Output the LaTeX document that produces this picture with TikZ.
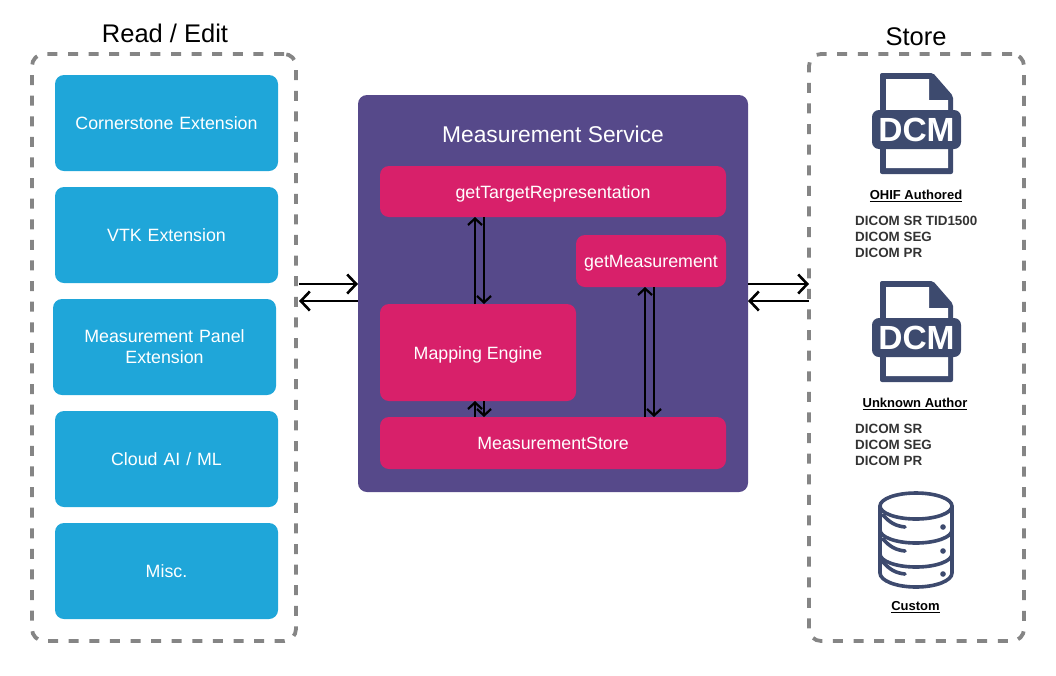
\documentclass[tikz,border=0pt]{standalone}
\usepackage{fontspec}
\setmainfont{Liberation Sans}
\usepackage{xcolor}
\usetikzlibrary{arrows.meta, positioning, calc}
\definecolor{extblue}{HTML}{1FA6D9}
\definecolor{svcpurple}{HTML}{56498A}
\definecolor{svcpink}{HTML}{D8206A}
\definecolor{iconnavy}{HTML}{3D4A6E}
\definecolor{dashgray}{HTML}{858585}
\definecolor{listgray}{HTML}{333333}
\begin{document}
\begin{tikzpicture}[
  x=1pt, y=-1pt,
  font=\fontsize{17.8}{21}\selectfont,
  area/.style={draw=dashgray, line width=3.8pt, dash pattern=on 10pt off 10.6pt, rounded corners=12pt, minimum height=587pt, outer sep=0pt, inner sep=0pt},
  ext/.style={fill=extblue, text=white, rounded corners=9pt, align=center, minimum width=223pt, minimum height=96pt, text width=190pt, inner sep=0pt, outer sep=0pt},
  svc/.style={fill=svcpink, text=white, rounded corners=9pt, align=center, inner sep=0pt, outer sep=0pt, text height=13pt, text depth=0pt},
  conn/.style={draw=black, line width=2.2pt, -{Straight Barb[length=6.5pt,width=14pt]}},
  link/.style={draw=black, line width=2.6pt, -{Straight Barb[length=9pt,width=19pt]}},
  head/.style={font=\fontsize{25.5}{30}\selectfont, inner sep=0pt},
  fmt/.style={font=\fontsize{13}{15}\selectfont\bfseries, inner sep=0pt},
  lst/.style={font=\fontsize{13.4}{16}\selectfont\bfseries, text=listgray, align=left, inner sep=0pt, anchor=north west},
  dcmfile/.pic={
    \fill[iconnavy, rounded corners=2pt] (-36.5,-56.5) -- (16.5,-56.5) -- (36.5,-33.5) -- (36.5,44.5) -- (-36.5,44.5) -- cycle;
    \fill[white] (-30.5,-50.5) -- (12.5,-50.5) -- (12.5,-29.5) -- (31.5,-29.5) -- (31.5,38.5) -- (-30.5,38.5) -- cycle;
    \fill[iconnavy, rounded corners=7pt] (-44.5,-19.5) rectangle (44.5,19.5);
    \node[text=white, inner sep=0pt, font=\fontsize{33.5}{40}\selectfont\bfseries] (-txt) at (0,0) {DCM};
  },
  dbstack/.pic={
    \begin{scope}[draw=iconnavy, line width=3.6pt, line cap=round]
      \draw[fill=white] (-36,0) -- (-36,67) arc[start angle=180, end angle=360, x radius=36, y radius=-14] -- (36,0);
      \draw[fill=white] (0,0) ellipse[x radius=36, y radius=13];
      \draw (-36,24) arc[start angle=180, end angle=360, x radius=36, y radius=-13];
      \draw (-36,48) arc[start angle=180, end angle=360, x radius=36, y radius=-13];
      \foreach \yy in {9,33,56} {
        \draw (-33,\yy) .. controls (-26,\yy+8) and (-20,\yy+11) .. (-11,\yy+12);
        \fill[iconnavy] (27,\yy+12) circle[radius=2.8];
      }
    \end{scope}
  }
]
% left area
\node[area, minimum width=264pt] (readedit) at (164,347.5) {};
\node[head] (readtitle) at (165,33) {Read / Edit};
\node[ext] (cornerstone) at (166.5,123) {Cornerstone Extension};
\node[ext, below=16pt of cornerstone] (vtk) {VTK Extension};
\node[ext, below=16pt of vtk, xshift=-2pt] (panel) {Measurement Panel\\Extension};
\node[ext, below=16pt of panel, xshift=2pt] (cloud) {Cloud AI / ML};
\node[ext, below=16pt of cloud] (misc) {Misc.};
% service
\node[fill=svcpurple, rounded corners=9pt, minimum width=390pt, minimum height=397pt, inner sep=0pt, outer sep=0pt] (service) at (553,293.5) {};
\node[text=white, inner sep=0pt, font=\fontsize{22.8}{27}\selectfont] (svctitle) at (553,134.5) {Measurement Service};
\node[svc, minimum width=346pt, minimum height=51pt] (target) at (553,191.5) {getTargetRepresentation};
\node[svc, minimum width=150pt, minimum height=52pt] (getm) at (651,261) {getMeasurement};
\node[svc, minimum width=196pt, minimum height=97pt] (mapping) at (478,352.5) {Mapping Engine};
\node[svc, minimum width=346pt, minimum height=52pt] (mstore) at (553,443) {MeasurementStore};
% right area
\node[area, minimum width=215pt] (store) at (916.5,347.5) {};
\node[head] (storetitle) at (916,37) {Store};
\pic (dcmA) at (916.5,129.5) {dcmfile};
\node[fmt] (ohif) at (916,196) {\underline{OHIF Authored}};
\node[lst] (ohiflist) at (855,215.5) {DICOM SR TID1500\\DICOM SEG\\DICOM PR};
\pic (dcmB) at (916.5,337.5) {dcmfile};
\node[fmt] (unknown) at (915,404) {\underline{Unknown Author}};
\node[lst] (unknownlist) at (855,423.5) {DICOM SR\\DICOM SEG\\DICOM PR};
\pic (db) at (916,506) {dbstack};
\node[fmt] (custom) at (915.5,607) {\underline{Custom}};
% arrows in the service
\draw[conn] ([xshift=-3pt]mapping.north) -- ([xshift=-3pt]mapping.north |- target.south);
\draw[conn] ([xshift=6pt]mapping.north |- target.south) -- ([xshift=6pt]mapping.north);
\draw[conn] ([xshift=-3pt]mapping.north |- mstore.north) -- ([xshift=-3pt]mapping.south);
\draw[conn] ([xshift=6pt]mapping.south) -- ([xshift=6pt]mapping.north |- mstore.north);
\draw[conn] ([xshift=-6pt]getm.south |- mstore.north) -- ([xshift=-6pt]getm.south);
\draw[conn] ([xshift=3pt]getm.south) -- ([xshift=3pt]getm.south |- mstore.north);
% arrows between areas
\draw[link] ([xshift=3pt,yshift=9.5pt]readedit.east |- service.west) -- ([yshift=9.5pt]service.west);
\draw[link] ([yshift=-7.5pt]service.west) -- ([xshift=3pt,yshift=-7.5pt]readedit.east |- service.west);
\draw[link] ([yshift=9.5pt]service.east) -- ([yshift=9.5pt]store.west |- service.east);
\draw[link] ([yshift=-7.5pt]store.west |- service.east) -- ([yshift=-7.5pt]service.east);
\path[use as bounding box] (0,0) rectangle (1056,675);
\end{tikzpicture}
\end{document}
